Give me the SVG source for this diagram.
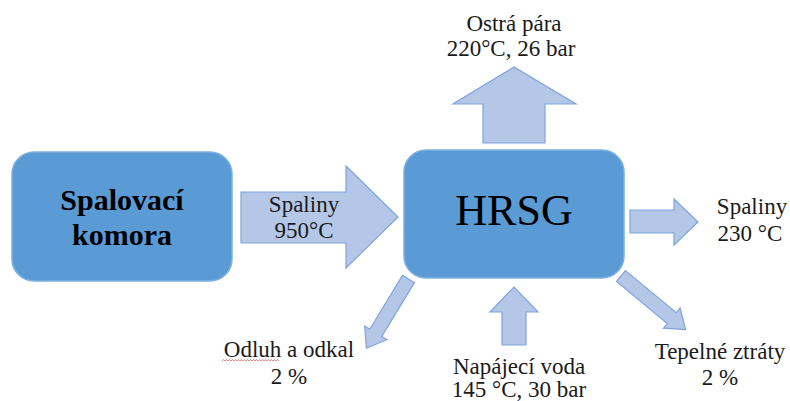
<svg xmlns="http://www.w3.org/2000/svg" width="790" height="401" viewBox="0 0 790 401">
<style>
.box{fill:#5B9BD5;stroke:#7EB0E0;stroke-width:1.5}
.arr{fill:#B4C7E7;stroke:#7FA4DC;stroke-width:1.2;stroke-linejoin:miter}
text{font-family:'Liberation Serif','DejaVu Serif','Times New Roman',serif}
.t{font-size:23px;fill:#1a1a1a;text-anchor:middle}
.tb{font-size:30px;font-weight:bold;fill:#000;text-anchor:middle}
.th{font-size:44px;fill:#000;text-anchor:middle}
</style>
<rect width="790" height="401" fill="#fff"/>
<g id="spalovaci-komora">
<rect class="box" x="12" y="152" width="220" height="129" rx="22"/>
<text class="tb" x="122" y="210">Spalovací</text>
<text class="tb" x="122" y="245">komora</text>
</g>
<g id="hrsg">
<rect class="box" x="404" y="150" width="220" height="128" rx="22"/>
<text class="th" x="514" y="225">HRSG</text>
</g>
<g id="connectors">
<path class="arr" d="M241,192 H346 V166 L398,217 L346,268 V243 H241 Z"/>
<path class="arr" d="M483,143 V104 H453 L514,67 L576,104 H545 V143 Z"/>
<path class="arr" d="M630,210 H674 V199 L698,222 L674,245 V233 H630 Z"/>
<path class="arr" d="M502,345 V312 H490 L514,287 L538,312 H526 V345 Z"/>
<path class="arr" transform="translate(408.5,279) rotate(121.3)" d="M0,-7 H63 V-13 L81,0 L63,13 V7 H0 Z"/>
<path class="arr" transform="translate(621,276) rotate(39.7)" d="M0,-7 H66 V-13 L84,0 L66,13 V7 H0 Z"/>
</g>
<g id="label-spaliny-950">
<text class="t" x="304" y="212">Spaliny</text>
<text class="t" x="304" y="238">950°C</text>
</g>
<g id="label-ostra-para">
<text class="t" x="514" y="31">Ostrá pára</text>
<text class="t" x="511" y="56">220°C, 26 bar</text>
</g>
<g id="label-spaliny-230">
<text class="t" x="752" y="214">Spaliny</text>
<text class="t" x="750" y="241">230 °C</text>
</g>
<g id="label-odluh">
<text class="t" x="289" y="357">Odluh a odkal</text>
<text class="t" x="289" y="384">2 %</text>
<path d="M222,361 l1.5,-1.5 l1.5,1.5 l1.5,-1.5 l1.5,1.5 l1.5,-1.5 l1.5,1.5 l1.5,-1.5 l1.5,1.5 l1.5,-1.5 l1.5,1.5 l1.5,-1.5 l1.5,1.5 l1.5,-1.5 l1.5,1.5 l1.5,-1.5 l1.5,1.5 l1.5,-1.5 l1.5,1.5 l1.5,-1.5 l1.5,1.5 l1.5,-1.5 l1.5,1.5 l1.5,-1.5 l1.5,1.5 l1.5,-1.5 l1.5,1.5 l1.5,-1.5 l1.5,1.5 l1.5,-1.5 l1.5,1.5 l1.5,-1.5 l1.5,1.5 l1.5,-1.5 l1.5,1.5 l1.5,-1.5 l1.5,1.5 l1.5,-1.5 l1.5,1.5" fill="none" stroke="#E06666" stroke-width="0.8"/>
</g>
<g id="label-napajeci">
<text class="t" x="519" y="374">Napájecí voda</text>
<text class="t" x="519" y="397">145 °C, 30 bar</text>
</g>
<g id="label-tepelne">
<text class="t" x="720" y="359">Tepelné ztráty</text>
<text class="t" x="720" y="385">2 %</text>
</g>
</svg>
